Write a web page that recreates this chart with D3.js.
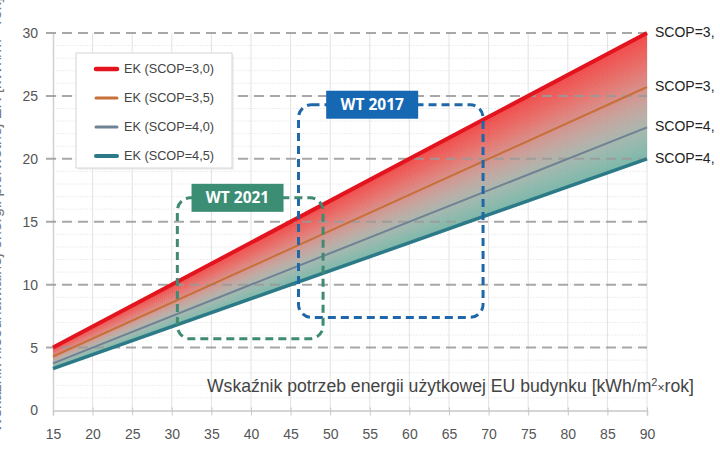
<!DOCTYPE html>
<html><head><meta charset="utf-8">
<script src="https://cdn.jsdelivr.net/npm/d3@7"></script>
<style>html,body{margin:0;padding:0;background:#fff;overflow:hidden}svg{display:block}</style>
</head><body>
<svg id="c" width="720" height="456"></svg>
<script>
// ---- data ----
const xTicks = [15,20,25,30,35,40,45,50,55,60,65,70,75,80,85,90];
const yTicks = [0,5,10,15,20,25,30];
const euRange = [15, 90];
const seriesNames = ["EK (SCOP=3,0)","EK (SCOP=3,5)","EK (SCOP=4,0)","EK (SCOP=4,5)"];
const endLabels = ["SCOP=3,","SCOP=3,","SCOP=4,","SCOP=4,"];
const ek30 = [5.00, 30.00];
const ek35 = [4.29, 25.71];
const ek40 = [3.75, 22.50];
const ek45 = [3.33, 20.00];
const wtNames = ["WT 2017","WT 2021"];
const wtX = [[46.0, 69.3],[30.7, 49.1]];
const wtY = [[7.4, 24.3],[5.7, 16.9]];
const wtLabelX = [55.3, 38.3];
const xTitle = "Wskaźnik potrzeb energii użytkowej EU budynku [kWh/m";
const yTitle = "Wskaźnik nieodnawialnej energii pierwotnej EK [kWh/m²×rok]";

// ---- chart ----
const svg = d3.select("#c");
const font = "Arial, 'Liberation Sans', sans-serif";
const x = d3.scaleLinear().domain([15,90]).range([53,647]);
const y = d3.scaleLinear().domain([0,30]).range([410.5,33]);
const series = [ek30, ek35, ek40, ek45];
const colors = ["#e3141e","#c8703a","#6f8294","#2c7a88"];
const widths = [4, 2, 2, 3.5];

// minor horizontal grid
const g = svg.append("g");
g.selectAll("line.mh").data(d3.range(1,30)).join("line")
  .attr("x1", x(15)).attr("x2", x(90)).attr("y1", d=>y(d)).attr("y2", d=>y(d))
  .attr("stroke", "#eeeeee").attr("stroke-width", 1).attr("stroke-dasharray","2,1");
// vertical grid
g.selectAll("line.v").data(xTicks.slice(1)).join("line")
  .attr("x1", d=>x(d)).attr("x2", d=>x(d)).attr("y1", y(0)).attr("y2", y(30))
  .attr("stroke", "#e2e2e2").attr("stroke-width", 1);

// axes
const xAxis = d3.axisBottom(x).tickValues(xTicks).tickSize(5).tickPadding(14);
const xa = svg.append("g").attr("transform", `translate(0,${y(0)})`).call(xAxis);
xa.select(".domain").attr("stroke", "#c8c8c8").attr("stroke-width", 1.5);
xa.selectAll(".tick line").attr("stroke", "#c8c8c8").attr("y1", -3);
xa.selectAll("text").attr("font-family", font).attr("font-size", 14).attr("fill", "#555")
  .attr("transform", "scale(0.88,1)").attr("x", 0)
  .each(function(d){ d3.select(this).attr("transform", null); });
const yAxis = d3.axisLeft(y).tickValues(yTicks).tickSize(0).tickPadding(15);
const ya = svg.append("g").attr("transform", `translate(${x(15)},0)`).call(yAxis);
ya.select(".domain").attr("stroke", "#d0d0d0").attr("stroke-width", 1.5);
ya.selectAll("text").attr("font-family", font).attr("font-size", 14).attr("fill", "#555");

// fill band between top and bottom series (strips)
const stops = d3.interpolateRgbBasis(["#f03c3c","#e8665f","#cc9690","#a3b6ad","#6fb3a3"]);
const N = 40;
const bandG = svg.append("g").attr("opacity", 0.92);
for (let k = 0; k < N; k++) {
  const t0 = k / N, t1 = (k + 1) / N;
  const pts = [];
  euRange.forEach((e, i) => pts.push([x(e), y(ek30[i] + (ek45[i] - ek30[i]) * t0)]));
  euRange.slice().reverse().forEach((e, j) => {
    const i = euRange.length - 1 - j;
    pts.push([x(e), y(ek30[i] + (ek45[i] - ek30[i]) * t1) + 0.5]);
  });
  bandG.append("path").attr("d", "M" + pts.join("L") + "Z")
    .attr("fill", stops((k + 0.5) / N));
}

// major dashed grid
svg.append("g").selectAll("line").data(yTicks.slice(1)).join("line")
  .attr("x1", x(15) - 7).attr("x2", x(90)).attr("y1", d=>y(d)).attr("y2", d=>y(d))
  .attr("stroke", "#9a9a9a").attr("stroke-width", 2).attr("stroke-dasharray", "10,6")
  .attr("opacity", 0.85);

// lines
const line = d3.line().x((d,i)=>x(euRange[i])).y(d=>y(d));
series.forEach((s, i) => {
  svg.append("path").attr("d", line(s)).attr("fill","none")
    .attr("stroke", colors[i]).attr("stroke-width", widths[i]);
});

// end labels
series.forEach((s, i) => {
  svg.append("text").attr("x", x(90) + 8).attr("y", y(s[1]))
    .attr("dominant-baseline", "middle").attr("font-family", font)
    .attr("font-size", 14).attr("fill", "#222").text(endLabels[i]);
});

// WT boxes
const wtStroke = ["#1f67a8","#3f8a72"];
const wtFill = ["#1768b3","#3b8d74"];
wtNames.forEach((n, i) => {
  const x0 = x(wtX[i][0]), x1 = x(wtX[i][1]), y0 = y(wtY[i][1]), y1 = y(wtY[i][0]);
  svg.append("rect").attr("x", x0).attr("y", y0).attr("width", x1 - x0).attr("height", y1 - y0)
    .attr("rx", 13).attr("fill", "none").attr("stroke", wtStroke[i])
    .attr("stroke-width", 3).attr("stroke-dasharray", "8,5");
});
wtNames.forEach((n, i) => {
  const cx = x(wtLabelX[i]), cy = y(wtY[i][1]);
  svg.append("rect").attr("x", cx - 46).attr("y", cy - 14).attr("width", 92).attr("height", 28)
    .attr("fill", wtFill[i]);
  svg.append("text").attr("x", cx).attr("y", cy + 1).attr("text-anchor", "middle")
    .attr("dominant-baseline", "middle").attr("font-family", "'Open Sans', Arial, sans-serif")
    .attr("font-weight", "bold").attr("font-size", 15.5).attr("fill", "#fff").text(n);
});

// legend
const lg = svg.append("g");
lg.append("rect").attr("x", 78).attr("y", 55).attr("width", 156).attr("height", 115)
  .attr("fill", "#e8e8e8").attr("opacity", 0.6);
lg.append("rect").attr("x", 76).attr("y", 53).attr("width", 156).attr("height", 115)
  .attr("fill", "#fff").attr("stroke", "#d6d6d6").attr("stroke-width", 1);
seriesNames.forEach((n, i) => {
  const yy = 69 + i * 29;
  lg.append("line").attr("x1", 96).attr("x2", 117).attr("y1", yy).attr("y2", yy)
    .attr("stroke", colors[i]).attr("stroke-width", [4.5,3,3,4][i]).attr("stroke-linecap","round");
  lg.append("text").attr("x", 124).attr("y", yy).attr("dominant-baseline", "middle")
    .attr("font-family", font).attr("font-size", 13.5).attr("fill", "#444")
    .attr("textLength", 90).attr("lengthAdjust", "spacingAndGlyphs").text(n);
});

// x axis title
const xt = svg.append("text").attr("x", 207).attr("y", 392)
  .attr("font-family", font).attr("font-size", 16).attr("fill", "#444");
xt.append("tspan").text(xTitle);
xt.append("tspan").attr("font-size", 10).attr("dy", -6).text("2");
xt.append("tspan").attr("font-size", 11).attr("dy", 6).text("×");
xt.append("tspan").text("rok]");
const w = xt.node().getComputedTextLength();
xt.attr("font-size", 16 * 487 / w);
xt.selectAll("tspan").each(function(){
  const fs = d3.select(this).attr("font-size");
  if (fs) d3.select(this).attr("font-size", fs * 487 / w);
});

// y axis title (mostly cut off at left edge, as in the reference)
svg.append("text").attr("transform", "translate(0.5,215) rotate(-90)")
  .attr("text-anchor", "middle").attr("font-family", font).attr("font-size", 16)
  .attr("fill", "#777").text(yTitle);
</script>
</body></html>
